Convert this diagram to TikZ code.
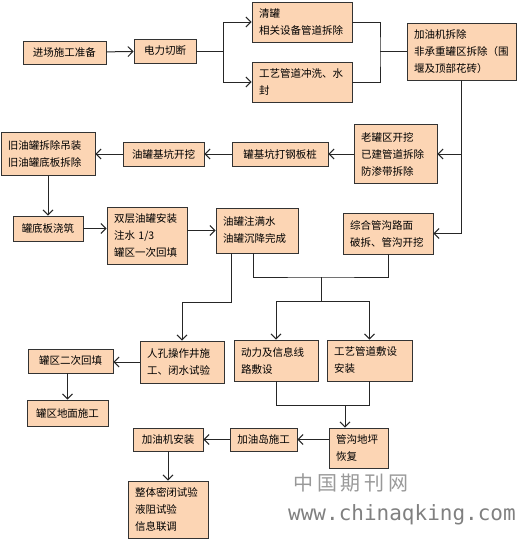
\documentclass[tikz,border=0pt]{standalone}
\usepackage{fontspec}
\newfontfamily\cjk{Noto Sans CJK SC}
\newfontfamily\cjkwide[LetterSpace=18]{Noto Sans CJK SC}
\newfontfamily\wmono{DejaVu Sans Mono}
\usetikzlibrary{arrows.meta}
\definecolor{boxfill}{HTML}{FCD5B4}
\definecolor{boxline}{HTML}{333333}
\begin{document}
\begin{tikzpicture}[x=1pt,y=-1pt,
  box/.style={draw=boxline, fill=boxfill, line width=0.8pt,
    font=\cjk\fontsize{10.5}{17}\selectfont, inner xsep=7pt, inner ysep=3pt, align=left},
  cbox/.style={box, align=center},
  ln/.style={line width=1pt, draw=black!85},
  arr/.style={ln, -{Straight Barb[length=5pt,width=10pt]}},
  wm/.style={inner sep=0pt}]
\useasboundingbox (0,0) rectangle (517,542);

% row 1
\node[cbox, minimum width=83pt, minimum height=23pt] (prep) at (64.5,52.5) {进场施工准备};
\node[cbox, minimum width=62pt, minimum height=24pt] (power) at (165,51) {电力切断};
\node[box, text width=86pt, minimum height=40pt] (clean) at (302,22) {清罐\\相关设备管道拆除};
\node[box, text width=86pt, minimum height=40pt] (flush) at (302,82) {工艺管道冲洗、水\\封};
\node[box, text width=95pt, minimum height=57pt] (disp) at (461.5,51.5) {加油机拆除\\非承重罐区拆除（围\\堰及顶部花砖）};

% row 2
\node[box, text width=69pt, minimum height=59pt] (old) at (395.5,154) {老罐区开挖\\已建管道拆除\\防渗带拆除};
\node[cbox, minimum width=96pt, minimum height=24pt] (pile) at (280,154) {罐基坑打钢板桩};
\node[cbox, minimum width=81pt, minimum height=24pt] (pit) at (163.5,154) {油罐基坑开挖};
\node[box, text width=80pt, minimum height=43pt] (remove) at (48,154) {旧油罐拆除吊装\\旧油罐底板拆除};

% row 3
\node[cbox, minimum width=70pt, minimum height=25pt] (slab) at (48,228.5) {罐底板浇筑};
\node[box, text width=66pt, minimum height=57pt] (install) at (147,235.5) {双层油罐安装\\注水 1/3\\罐区一次回填};
\node[box, text width=68pt, minimum height=45pt] (fill) at (257,230.5) {油罐注满水\\油罐沉降完成};
\node[box, text width=76pt, minimum height=41pt] (trench) at (388,233.5) {综合管沟路面\\破拆、管沟开挖};

% row 4
\node[box, text width=70pt, minimum height=42pt] (man) at (182,362) {人孔操作井施\\工、闭水试验};
\node[cbox, minimum width=85pt, minimum height=24pt] (back) at (70.5,361) {罐区二次回填};
\node[cbox, minimum width=81pt, minimum height=26pt] (ground) at (67.5,413) {罐区地面施工};
\node[box, text width=70pt, minimum height=41pt] (cable) at (276,360.5) {动力及信息线\\路敷设};
\node[box, text width=71pt, minimum height=41pt] (pipe) at (369.5,360.5) {工艺管道敷设\\安装};

% row 5
\node[box, text width=45pt, minimum height=40pt] (restore) at (358.5,448) {管沟地坪\\恢复};
\node[cbox, minimum width=67pt, minimum height=23pt] (island) at (263.5,439.5) {加油岛施工};
\node[cbox, minimum width=70pt, minimum height=23pt] (dinst) at (168,439.5) {加油机安装};
\node[box, text width=66pt, minimum height=57pt] (test) at (168,509.5) {整体密闭试验\\液阻试验\\信息联调};

% watermark
\node[wm, text=black!40, font=\cjkwide\fontsize{20}{20}\selectfont] (wm1) at (351,483) {中国期刊网};
\node[wm, text=black!50, font=\wmono\fontsize{21}{21}\selectfont] (wm2) at (402,515) {www.chinaqking.com};

% junction coordinates
\coordinate (s1) at (223,51);
\coordinate (m1) at (380,51.5);
\coordinate (c302) at (231,302);
\coordinate (j) at (321,277);
\coordinate (k) at (321,301);
\coordinate (m2) at (345,405);

% connectors
\draw[arr] (prep) -- (power);
\draw[ln] (power.east) -- (s1);
\draw[arr] (s1) |- (clean.west);
\draw[arr] (s1) |- (flush.west);
\draw[ln] (clean.east) -| (m1) |- (flush.east);
\draw[ln] (m1) -- (disp.west);
\draw[arr] (disp.south) |- (old.east);
\draw[arr] (disp.south) |- (trench.east);
\draw[arr] (old.west) -- (pile.east);
\draw[arr] (pile.west) -- (pit.east);
\draw[arr] (pit.west) -- (remove.east);
\draw[arr] (remove.south) -- (slab.north);
\draw[arr] (slab.east) -- (slab.east -| install.west);
\draw[arr] (install.east |- fill.west) -- (fill.west);
\draw[arr] ([xshift=-26pt]fill.south) -- (c302) -| (man.north);
\draw[ln] ([xshift=-4pt]fill.south) |- (j) -| (trench.south);
\draw[ln] (j) -- (k);
\draw[arr] (k) -| (cable.north);
\draw[arr] (k) -| (pipe.north);
\draw[arr] (man.west) -- (man.west -| back.east);
\draw[arr] (back.south -| ground.north) -- (ground.north);
\draw[ln] (cable.south) -- (cable.south |- m2) -- (pipe.south |- m2) -- (pipe.south);
\draw[arr] (m2) -- (m2 |- restore.north);
\draw[arr] (restore.west |- island.east) -- (island.east);
\draw[arr] (island.west) -- (dinst.east);
\draw[arr] (dinst.south) -- (test.north);
\end{tikzpicture}
\end{document}
